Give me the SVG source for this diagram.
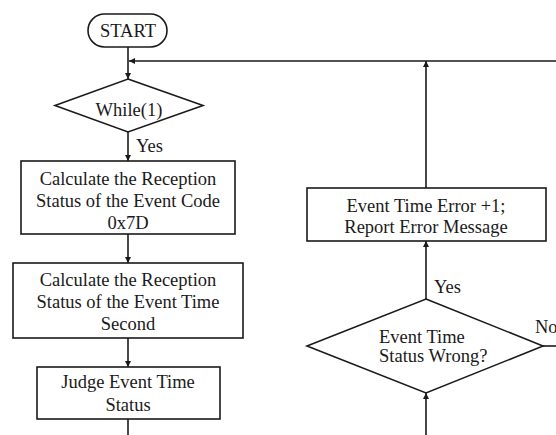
<svg xmlns="http://www.w3.org/2000/svg" width="556" height="435" viewBox="0 0 556 435">
  <defs>
    <marker id="arrow" viewBox="0 0 10 10" refX="10" refY="5" markerWidth="6" markerHeight="7" markerUnits="userSpaceOnUse" orient="auto">
      <path d="M0,0 L10,5 L0,10 z" fill="#1a1a1a"/>
    </marker>
  </defs>
  <style>
    .shape { fill: #ffffff; stroke: #1a1a1a; stroke-width: 1.6; }
    .edge { fill: none; stroke: #1a1a1a; stroke-width: 1.6; }
    text { font-family: "Liberation Serif", "Times New Roman", serif; font-size: 18.5px; fill: #1a1a1a; }
    .c { text-anchor: middle; }
  </style>
  <rect width="556" height="435" fill="#ffffff"/>

  <g id="connectors">
    <line class="edge" x1="128" y1="47" x2="128" y2="79" marker-end="url(#arrow)"/>
    <line class="edge" x1="556" y1="61" x2="129" y2="61" marker-end="url(#arrow)"/>
    <line class="edge" x1="128" y1="132" x2="128" y2="161" marker-end="url(#arrow)"/>
    <line class="edge" x1="128" y1="234" x2="128" y2="263" marker-end="url(#arrow)"/>
    <line class="edge" x1="128" y1="338" x2="128" y2="367" marker-end="url(#arrow)"/>
    <line class="edge" x1="128" y1="419" x2="128" y2="435"/>
    <line class="edge" x1="426" y1="435" x2="426" y2="393" marker-end="url(#arrow)"/>
    <line class="edge" x1="426" y1="299" x2="426" y2="241" marker-end="url(#arrow)"/>
    <line class="edge" x1="426" y1="188" x2="426" y2="61" marker-end="url(#arrow)"/>
    <line class="edge" x1="543" y1="346" x2="556" y2="346"/>
    <text x="136" y="152">Yes</text>
    <text x="434" y="293">Yes</text>
    <text x="535" y="333">No</text>
  </g>

  <g id="start">
    <rect class="shape" x="88" y="14" width="79" height="33" rx="16.5"/>
    <text class="c" x="128" y="37">START</text>
  </g>

  <g id="while-loop">
    <polygon class="shape" points="128,79 203,105.5 128,132 55,105.5"/>
    <text class="c" x="129" y="116">While(1)</text>
  </g>

  <g id="calc-event-code">
    <rect class="shape" x="21" y="161" width="214" height="73"/>
    <text class="c" x="128" y="184.5">Calculate the Reception</text>
    <text class="c" x="128" y="206.7">Status of the Event Code</text>
    <text class="c" x="128" y="229">0x7D</text>
  </g>

  <g id="calc-event-time">
    <rect class="shape" x="13" y="263" width="230" height="75"/>
    <text class="c" x="128" y="286">Calculate the Reception</text>
    <text class="c" x="128" y="308">Status of the Event Time</text>
    <text class="c" x="128" y="330">Second</text>
  </g>

  <g id="judge-status">
    <rect class="shape" x="37" y="367" width="183" height="52"/>
    <text class="c" x="128" y="388">Judge Event Time</text>
    <text class="c" x="128" y="411">Status</text>
  </g>

  <g id="report-error">
    <rect class="shape" x="307" y="188" width="239" height="53"/>
    <text class="c" x="426" y="212">Event Time Error +1;</text>
    <text class="c" x="426" y="233">Report Error Message</text>
  </g>

  <g id="status-check">
    <polygon class="shape" points="426,299 543,346 426,393 307,346"/>
    <text x="379" y="343">Event Time</text>
    <text x="379" y="362">Status Wrong?</text>
  </g>
</svg>
